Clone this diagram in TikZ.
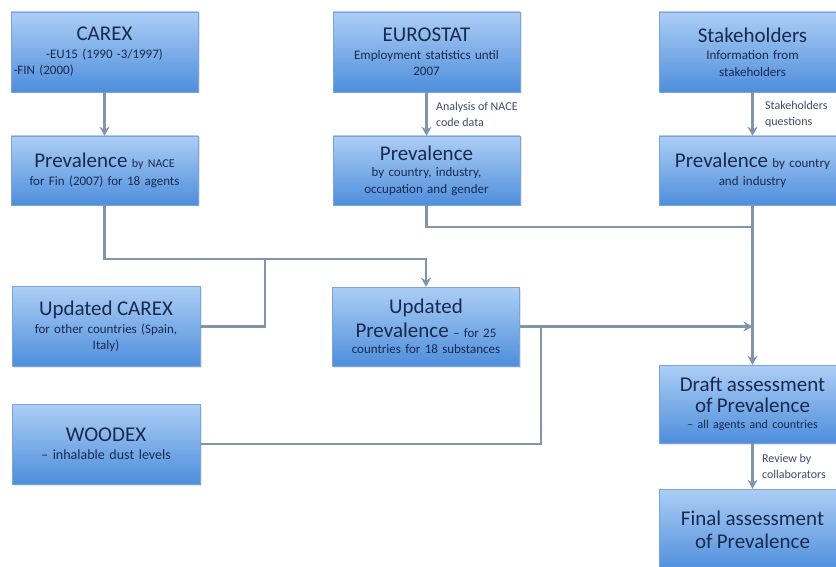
\documentclass[tikz,border=0pt]{standalone}
\usepackage{fontspec}
\setmainfont{Carlito}
\usetikzlibrary{arrows.meta,shadows}
\definecolor{boxTop}{RGB}{172,206,245}
\definecolor{boxBottom}{RGB}{78,142,220}
\definecolor{boxEdge}{RGB}{120,165,218}
\definecolor{textNavy}{RGB}{26,42,78}
\definecolor{lineGray}{RGB}{128,148,172}
\newcommand{\boxTitle}[1]{{\fontsize{21}{24}\selectfont #1}}
\newcommand{\boxSmall}[1]{{\fontsize{12}{14}\selectfont #1}}

\begin{document}
\begin{tikzpicture}[x=1pt,y=-1pt,
  box/.style={draw=boxEdge,top color=boxTop,bottom color=boxBottom,
    minimum width=187pt,minimum height=80pt,text width=182pt,inner sep=1pt,
    align=center,text=textNavy,font=\fontsize{13}{16.5}\selectfont,
    drop shadow={opacity=0.2,shadow xshift=1.5pt,shadow yshift=-1.5pt}},
  link/.style={draw=lineGray,line width=2.6pt},
  arr/.style={link,-{Stealth[length=9pt,width=10pt]}},
  note/.style={font=\fontsize{12}{16}\selectfont,text=textNavy!85,align=left}]
\useasboundingbox (0,0) rectangle (836,567);
% Sources
\node[box] (carex) at (104.5,52) {\boxTitle{CAREX}\\[1pt]
  -EU15 (1990 -3/1997)\\ \makebox[182pt][l]{-FIN (2000)}};
\node[box] (eurostat) at (426.5,52) {\boxTitle{EUROSTAT}\\[1pt]
  Employment statistics until\\ 2007};
\node[box] (stake) at (752.5,52) {\boxTitle{Stakeholders}\\[1pt]
  Information from\\ stakeholders};
% Prevalence estimates
\node[box,minimum height=69pt] (prev1) at (104.5,170.5) {\boxTitle{Prevalence} \boxSmall{by NACE}\\[1pt]
  for Fin (2007) for 18  agents};
\node[box,minimum height=69pt] (prev2) at (426.5,170.5) {\boxTitle{Prevalence}\\
  by country, industry,\\ occupation and gender};
\node[box,minimum height=69pt] (prev3) at (752.5,170.5) {\boxTitle{Prevalence} by country\\[1pt]
  and industry};
% Updates
\node[box,minimum width=188pt] (updcarex) at (106,326.5) {\boxTitle{Updated CAREX}\\[1pt]
  for other countries (Spain,\\ Italy)};
\node[box,minimum height=79pt] (updprev) at (426,326.5) {\boxTitle{Updated}\\[5pt]
  \boxTitle{Prevalence} -- for 25\\ countries for 18 substances};
\node[box,minimum width=188pt,font=\fontsize{14}{17}\selectfont] (woodex) at (106,444) {\boxTitle{WOODEX}\\[1pt]
  -- inhalable dust levels};
% Assessment
\node[box,minimum height=78pt] (draft) at (752.5,404) {\boxTitle{Draft assessment}\\[4pt]
  \boxTitle{of Prevalence}\\ {\fontsize{12}{14}\selectfont -- all agents and countries}};
\node[box,minimum height=82pt] (final) at (752.5,530) {\boxTitle{Final assessment}\\[7pt]
  \boxTitle{of Prevalence}};
% Junctions
\coordinate (bendA) at (0,259);
\coordinate (joinA) at (265,259);
\coordinate (joinB) at (753,227);
\coordinate (joinC) at (541,326.5);
% Connections
\draw[arr] (carex) -- (prev1);
\draw[arr] (eurostat) -- node[note,right=5pt] {Analysis of NACE\\code data} (prev2);
\draw[arr] (stake) -- node[note,right=8pt] {Stakeholders\\questions} (prev3);
\draw[arr] (prev1.south) -- (prev1.south |- bendA) -| (updprev.north);
\draw[link] (updcarex.east) -| (joinA);
\draw[link] (prev2.south) |- (joinB);
\draw[arr] (prev3) -- (draft);
\draw[arr] (updprev.east) -- (updprev.east -| draft);
\draw[link] (woodex.east) -| (joinC);
\draw[arr] (draft) -- node[note,right=5pt] {Review by\\collaborators} (final);
\end{tikzpicture}
\end{document}
